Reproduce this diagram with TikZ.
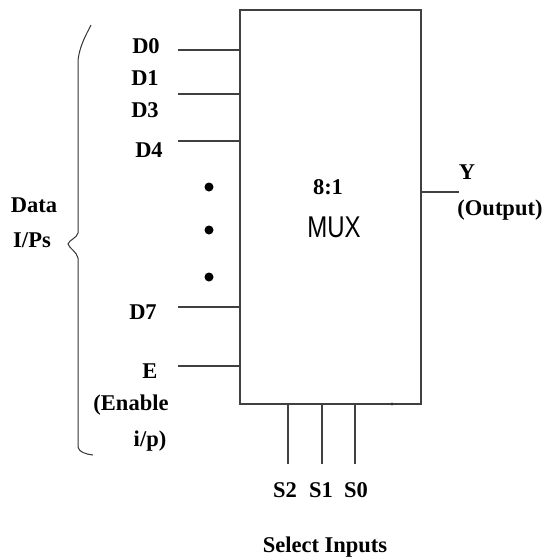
\documentclass[tikz,border=0pt]{standalone}
\usepackage{fontspec}
\setmainfont{Liberation Serif}
\newfontfamily\muxfont{Liberation Sans}
\begin{document}
\begin{tikzpicture}[x=1pt,y=-1pt,
  wire/.style={draw=black!75,line width=1.3pt},
  lbl/.style={font=\fontsize{22.5}{24}\selectfont\bfseries,inner sep=0pt},
  dotn/.style={circle,fill=black,inner sep=0pt,minimum size=9pt}]
\useasboundingbox (0,0) rectangle (545,560);
\node[wire,rectangle,minimum width=181pt,minimum height=394pt,inner sep=0pt] (mux) at (330.5,207) {};
% inputs
\foreach \n/\y in {d0/50,d1/94,d4/141,d7/307,e/366}{
  \coordinate (\n in) at (178,\y);
  \draw[wire] (\n in) -- (\n in -| mux.west);
}
\node[lbl] (D0) at (146,46) {D0};
\node[lbl] (D1) at (145,78) {D1};
\node[lbl] (D3) at (145,110) {D3};
\node[lbl] (D4) at (149,150) {D4};
\node[lbl] (D7) at (143,312) {D7};
\node[lbl] (E) at (150,371) {E};
\node[lbl] (En) at (131,405) {(Enable};
\node[lbl] (ip) at (150,441) {i/p)};
\node[dotn] (k1) at (209,187) {};
\node[dotn] (k2) at (209,230) {};
\node[dotn] (k3) at (209,277) {};
% brace
\draw[black!80,line width=1pt] (91,25) .. controls (86,35) and (80,45) .. (78,60) -- (78,233)
  .. controls (77,238) and (69,240) .. (68,244) .. controls (69,248) and (77,252) .. (78,258)
  -- (78,447) .. controls (79,452) and (85,454) .. (93,455);
\node[lbl] (data) at (34,205) {Data};
\node[lbl] (ips) at (32,240) {I/Ps};
% centre text
\node[lbl] (ratio) at (328,187) {8:1};
\node[inner sep=0pt,font=\muxfont\fontsize{30}{32}\selectfont] (muxt) at (334,227) {\scalebox{0.8}[1]{MUX}};
% output
\coordinate (yout) at (459,192);
\draw[wire] (mux.east |- yout) -- (yout);
\node[lbl] (Y) at (467,172) {Y};
\node[lbl] (outp) at (500,210) {(Output)};
% selects
\foreach \n/\x in {s2/288,s1/322,s0/355}{
  \coordinate (\n end) at (\x,464);
  \draw[wire] (\n end |- mux.south) -- (\n end);
}
\fill[black!80] (392,404) circle (1.6pt);
\node[lbl] (S2) at (285,490) {S2};
\node[lbl] (S1) at (321,490) {S1};
\node[lbl] (S0) at (356,490) {S0};
\node[lbl] (sel) at (325,547) {Select Inputs};
\end{tikzpicture}
\end{document}
